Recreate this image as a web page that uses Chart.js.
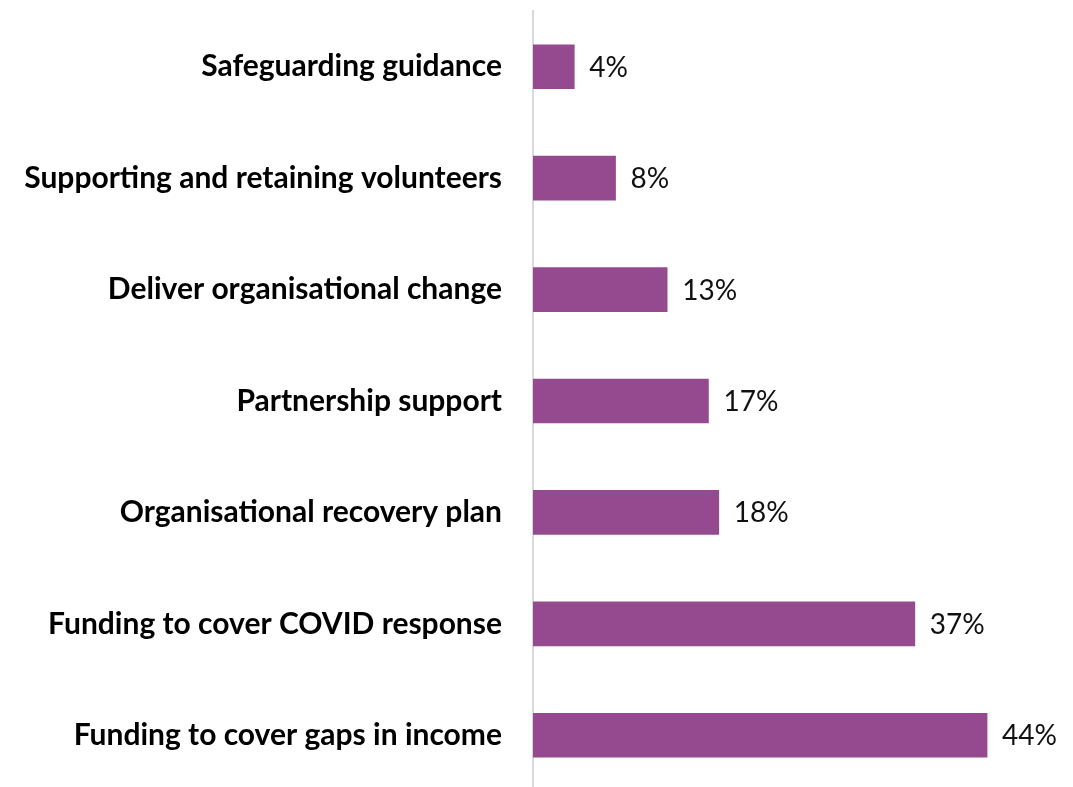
<!DOCTYPE html>
<html lang="en">
<head>
    <meta charset="UTF-8">
    <title>Support needs</title>
    <script src="https://cdn.jsdelivr.net/npm/chart.js"></script>
    <style>
        html, body {
            margin: 0;
            padding: 0;
            background: #ffffff;
            overflow: hidden;
        }
        #chart-container {
            width: 1073px;
            height: 791px;
        }
    </style>
</head>
<body>
    <div id="chart-container">
        <canvas id="supportChart"></canvas>
    </div>

    <script>
        const categories = [
            "Safeguarding guidance",
            "Supporting and retaining volunteers",
            "Deliver organisational change",
            "Partnership support",
            "Organisational recovery plan",
            "Funding to cover COVID response",
            "Funding to cover gaps in income"
        ];
        const percentages = [4, 8, 13, 17, 18, 37, 44];

        // writes "n%" just past the end of each bar
        const valueLabels = {
            id: "valueLabels",
            afterDatasetsDraw(chart) {
                const ctx = chart.ctx;
                const meta = chart.getDatasetMeta(0);
                ctx.save();
                ctx.font = "28px Lato, 'Open Sans', sans-serif";
                ctx.fillStyle = "#111111";
                ctx.textAlign = "left";
                ctx.textBaseline = "middle";
                meta.data.forEach((bar, i) => {
                    ctx.fillText(percentages[i] + "%", bar.x + 15, bar.y + 1);
                });
                ctx.restore();
            }
        };

        new Chart(document.getElementById("supportChart").getContext("2d"), {
            type: "bar",
            data: {
                labels: categories,
                datasets: [{
                    data: percentages,
                    backgroundColor: "#954a8f",
                    barThickness: 44
                }]
            },
            plugins: [valueLabels],
            options: {
                indexAxis: "y",
                responsive: true,
                maintainAspectRatio: false,
                animation: false,
                layout: {
                    padding: { top: 11, right: 24, bottom: 0, left: 0 }
                },
                plugins: {
                    legend: { display: false },
                    tooltip: { enabled: false }
                },
                scales: {
                    x: {
                        display: false,
                        min: 0,
                        max: 50
                    },
                    y: {
                        grid: { display: false },
                        border: { display: true, color: "#d9d9e2", width: 2 },
                        ticks: {
                            color: "#000000",
                            padding: 23,
                            font: { family: "Lato, 'Open Sans', sans-serif", size: 30, weight: "bold" }
                        },
                        afterFit(scale) {
                            scale.width = 533;
                            // labels sit mid-band, so no extra room is needed above or below
                            scale.paddingTop = 0;
                            scale.paddingBottom = 0;
                        }
                    }
                }
            }
        });
    </script>
</body>
</html>
